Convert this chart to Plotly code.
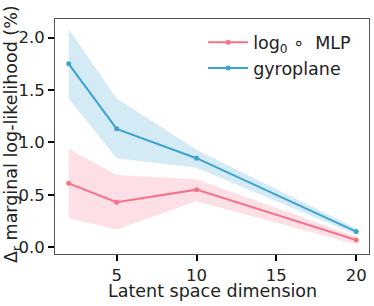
import plotly.graph_objects as go

dims = [2, 5, 10, 20]
mlp_mean = [0.61, 0.43, 0.55, 0.07]
mlp_low = [0.28, 0.17, 0.44, 0.03]
mlp_high = [0.94, 0.69, 0.65, 0.10]
gyro_mean = [1.75, 1.13, 0.85, 0.15]
gyro_low = [1.42, 0.85, 0.76, 0.12]
gyro_high = [2.08, 1.42, 0.93, 0.18]

x_title = "Latent space dimension"
y_title = "Δ<sub>r</sub> marginal log-likelihood (%)"

pink = "#f7718a"
blue = "#3ba3d0"

fig = go.Figure()

def band(x, lo, hi, color):
    fig.add_trace(go.Scatter(x=x + x[::-1], y=hi + lo[::-1], fill="toself",
                             fillcolor=color, line=dict(width=0), hoverinfo="skip",
                             showlegend=False, mode="lines"))

band(dims, mlp_low, mlp_high, "rgba(247,113,138,0.22)")
band(dims, gyro_low, gyro_high, "rgba(59,163,208,0.22)")

fig.add_trace(go.Scatter(x=dims, y=mlp_mean, mode="lines+markers", name="log<sub>0</sub> ∘  MLP",
                         line=dict(color=pink, width=2), marker=dict(size=5, color=pink)))
fig.add_trace(go.Scatter(x=dims, y=gyro_mean, mode="lines+markers", name="gyroplane",
                         line=dict(color=blue, width=2), marker=dict(size=5, color=blue)))

axis_common = dict(showgrid=False, zeroline=False, showline=True, linecolor="#555555", linewidth=1,
                   mirror=True, ticks="outside", ticklen=6, tickwidth=1.5, tickcolor="black",
                   automargin=False, tickfont=dict(size=16.5, color="#222222"))

W, H = 374, 306
L, R, T, B = 55, 5, 19, 52
pw, ph = W - L - R, H - T - B

fig.update_layout(
    width=W, height=H,
    margin=dict(l=L, r=R, t=T, b=B),
    plot_bgcolor="white", paper_bgcolor="white",
    font=dict(family="DejaVu Sans", size=17, color="#222222"),
    xaxis=dict(range=[1.14, 20.8], tickvals=[5, 10, 15, 20], **axis_common),
    yaxis=dict(range=[-0.064, 2.178], tickvals=[0, 0.5, 1.0, 1.5, 2.0],
               ticktext=["0.0", "0.5", "1.0", "1.5", "2.0"], **axis_common),
    legend=dict(x=0.959, y=0.977, xanchor="right", yanchor="top", bgcolor="rgba(0,0,0,0)",
                font=dict(size=17.5), itemwidth=40),
    annotations=[
        dict(text=x_title, xref="paper", yref="paper", x=0.5, y=-(291 - (T + ph)) / ph,
             xanchor="center", yanchor="middle", showarrow=False, font=dict(size=17.5)),
        dict(text=y_title, xref="paper", yref="paper", x=(12 - L) / pw, y=(T + ph - 134) / ph,
             xanchor="center", yanchor="middle", textangle=-90, showarrow=False,
             font=dict(size=17.5)),
    ],
)

fig.write_html("out.html", config={"displayModeBar": False},
               post_script="document.body.style.margin='0';document.body.style.overflow='hidden';")
